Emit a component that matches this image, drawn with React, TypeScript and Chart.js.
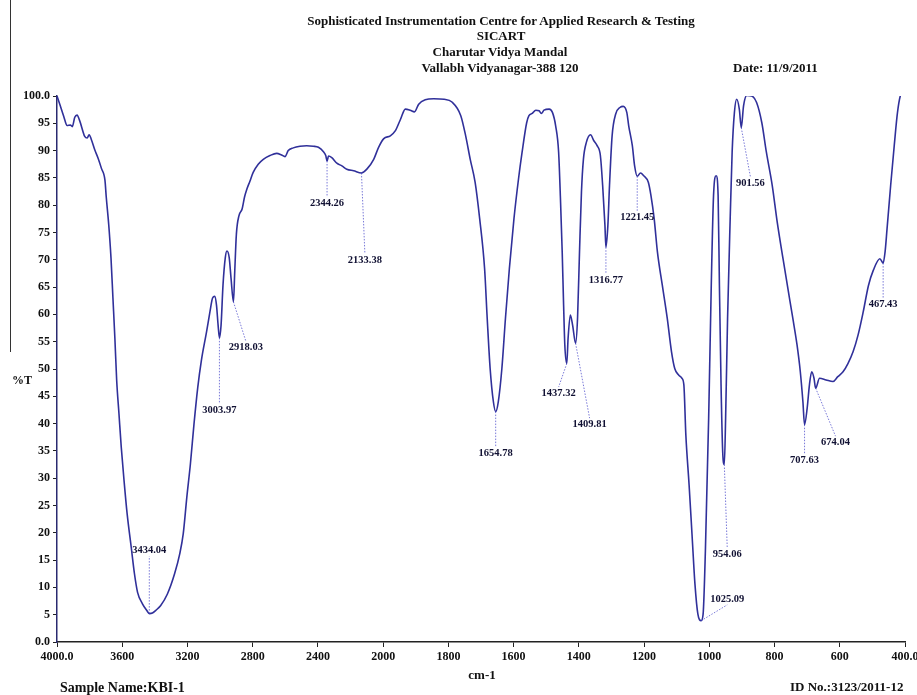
import React, { useEffect, useRef } from "react";
import { Chart, registerables } from "chart.js";

Chart.register(...registerables);

// Spectrum (wavenumber cm-1, %T)
const wavenumbers = [
  4000, 3983, 3959, 3938, 3918, 3906, 3891, 3877, 3860, 3830, 3815, 3803, 3789, 3768, 3748, 3727, 3706, 3698, 3683, 3669,
  3657, 3645, 3634, 3620, 3606, 3589, 3570, 3545, 3525, 3506, 3476, 3450, 3434, 3415, 3394, 3364, 3323, 3279, 3247, 3226,
  3204, 3182, 3160, 3137, 3115, 3083, 3062, 3046, 3033, 3022, 3012, 3004, 2994, 2982, 2968, 2958, 2944, 2933, 2918, 2910,
  2900, 2884, 2865, 2850, 2835, 2817, 2797, 2766, 2735, 2694, 2653, 2623, 2602, 2582, 2551, 2510, 2469, 2428, 2397, 2366,
  2352, 2344, 2335, 2315, 2284, 2253, 2223, 2181, 2133, 2100, 2058, 2028, 1998, 1978, 1963, 1947, 1932, 1917, 1904, 1891,
  1871, 1845, 1813, 1789, 1762, 1747, 1733, 1718, 1704, 1689, 1681, 1672, 1662, 1655, 1647, 1636, 1625, 1613, 1599, 1585,
  1574, 1560, 1553, 1543, 1532, 1522, 1515, 1507, 1491, 1481, 1471, 1462, 1456, 1451, 1447, 1443, 1437, 1433, 1426, 1419,
  1410, 1404, 1398, 1392, 1386, 1377, 1364, 1354, 1344, 1334, 1327, 1320, 1317, 1311, 1306, 1298, 1287, 1274, 1264, 1253,
  1247, 1236, 1229, 1221, 1211, 1201, 1187, 1179, 1169, 1159, 1144, 1129, 1116, 1106, 1094, 1084, 1078, 1072, 1062, 1053,
  1044, 1035, 1025, 1019, 1012, 1002, 994, 987, 979, 973, 969, 964, 959, 954, 950, 944, 936, 930, 923, 916,
  908, 902, 895, 885, 870, 855, 839, 825, 807, 792, 774, 759, 744, 731, 721, 713, 708, 700, 693, 686,
  679, 674, 662, 642, 621, 606, 590, 575, 559, 544, 528, 512, 497, 477, 467, 461, 455, 444, 433, 423,
  413, 408,
];
const transmittance = [
  100.0, 98.5, 96.3, 94.6, 94.7, 94.4, 96.1, 96.5, 95.4, 92.6, 92.3, 92.9, 92.0, 90.1, 88.6, 86.7, 84.6, 81.5, 76.5, 70.4,
  63.0, 55.6, 47.9, 41.8, 35.7, 29.6, 23.5, 17.4, 12.5, 9.1, 7.0, 5.8, 5.2, 5.3, 5.8, 6.7, 8.8, 12.5, 16.2, 19.8,
  26.5, 32.6, 39.9, 46.6, 51.5, 56.8, 60.5, 63.0, 63.3, 61.7, 58.0, 55.7, 58.0, 65.4, 70.4, 71.6, 70.4, 66.7, 62.3, 67.9,
  74.7, 78.1, 79.3, 81.5, 83.0, 84.4, 86.0, 87.5, 88.4, 89.1, 89.5, 89.2, 88.9, 90.0, 90.5, 90.8, 90.9, 90.8, 90.6, 89.8,
  89.1, 88.1, 89.0, 88.7, 87.7, 87.2, 86.6, 86.3, 85.9, 86.6, 88.4, 90.6, 92.2, 92.7, 93.6, 95.7, 97.6, 97.4, 97.1, 98.5,
  99.3, 99.5, 99.4, 98.9, 96.4, 92.7, 88.4, 84.2, 77.5, 68.4, 59.3, 50.1, 44.0, 42.2, 44.0, 50.1, 59.3, 68.4, 77.5, 84.8,
  89.7, 95.1, 96.4, 96.8, 97.4, 97.3, 96.8, 97.4, 97.6, 97.0, 94.5, 89.7, 80.5, 71.4, 62.3, 54.4, 51.0, 55.6, 59.9, 58.0,
  54.7, 59.3, 71.4, 82.4, 88.4, 91.5, 92.9, 91.8, 90.9, 89.1, 83.6, 76.3, 72.3, 76.3, 83.6, 92.7, 96.7, 97.9, 98.1, 97.0,
  94.5, 90.9, 87.2, 85.3, 85.9, 85.4, 84.2, 81.8, 77.5, 71.4, 65.3, 59.3, 53.2, 50.1, 48.9, 48.3, 47.1, 38.0, 28.8, 19.7,
  10.6, 5.1, 3.9, 5.1, 16.7, 41.0, 65.3, 81.8, 85.4, 81.8, 65.3, 47.1, 34.9, 32.5, 41.0, 59.3, 77.5, 89.7, 97.0, 99.4,
  97.6, 94.2, 98.2, 100.1, 100.0, 98.8, 95.1, 89.7, 83.6, 77.0, 70.2, 64.7, 59.3, 54.4, 49.5, 44.0, 39.8, 42.8, 47.1, 49.5,
  48.3, 46.5, 48.3, 48.0, 47.7, 48.6, 49.5, 51.0, 53.2, 56.2, 60.5, 65.3, 68.1, 70.2, 69.4, 71.5, 75.7, 83.6, 90.9, 97.0,
  100.3, 100.6,
];

// Peak annotations: peak wavenumber, and where its label sits (wavenumber, %T)
const peakLabels = ["3434.04", "3003.97", "2918.03", "2344.26", "2133.38", "1654.78", "1437.32", "1409.81", "1316.77", "1221.45", "1025.09", "954.06", "901.56", "707.63", "674.04", "467.43"];
const peakWn = [3434, 3004, 2918, 2344, 2133, 1655, 1437, 1410, 1317, 1221, 1025, 954, 902, 708, 674, 467];
const labelWn = [3434, 3004, 2842, 2344, 2112, 1655, 1462, 1367, 1317, 1221, 945, 945, 874, 708, 613, 467];
const labelT = [16.8, 42.5, 54.0, 80.4, 70.0, 34.6, 45.6, 39.9, 66.3, 77.7, 7.9, 16.1, 84.1, 33.2, 36.6, 61.9];

// Axis ticks (cm-1)
const xTickValues = [4000, 3600, 3200, 2800, 2400, 2000, 1800, 1600, 1400, 1200, 1000, 800, 600, 400];

// Split IR axis: 4000-2000 is drawn at half the scale of 2000-400
const toAxis = (wn: number) => (wn >= 2000 ? (4000 - wn) / 2 : 1000 + (2000 - wn));
const fromAxis = (u: number) => (u <= 1000 ? 4000 - 2 * u : 2000 - (u - 1000));

function tAt(wn: number) {
  for (let i = 0; i < wavenumbers.length - 1; i++) {
    const a = wavenumbers[i], b = wavenumbers[i + 1];
    if (wn <= a && wn >= b) {
      const f = a === b ? 0 : (a - wn) / (a - b);
      return transmittance[i] + f * (transmittance[i + 1] - transmittance[i]);
    }
  }
  return transmittance[transmittance.length - 1];
}

const peakPlugin = {
  id: "peakLabels",
  afterDatasetsDraw(chart: any) {
    const ctx = chart.ctx;
    const xs = chart.scales.x, ys = chart.scales.y;
    ctx.save();
    ctx.font = "bold 10.5px 'Liberation Serif'";
    ctx.textAlign = "center";
    ctx.textBaseline = "middle";
    peakLabels.forEach((txt, i) => {
      const px = xs.getPixelForValue(toAxis(peakWn[i]));
      const py = ys.getPixelForValue(tAt(peakWn[i]));
      const lx = xs.getPixelForValue(toAxis(labelWn[i]));
      const ly = ys.getPixelForValue(labelT[i]);
      const endY = ly < py ? ly + 6 : ly - 6;
      ctx.strokeStyle = "rgba(70,70,200,0.8)";
      ctx.lineWidth = 0.9;
      ctx.setLineDash([1.5, 1.5]);
      ctx.beginPath();
      ctx.moveTo(px, py);
      ctx.lineTo(lx, endY);
      ctx.stroke();
      ctx.setLineDash([]);
      ctx.fillStyle = "#111133";
      ctx.fillText(txt, lx, ly);
    });
    ctx.restore();
  },
};

export default function App() {
  const ref = useRef<HTMLCanvasElement>(null);
  useEffect(() => {
    if (!ref.current) return;
    const data = wavenumbers.map((w, i) => ({ x: toAxis(w), y: transmittance[i] }));
    const tickFont = { family: "'Liberation Serif'", size: 12, weight: "bold" as const };
    const chart = new Chart(ref.current, {
      type: "line",
      data: {
        datasets: [
          {
            data,
            borderColor: "#30309a",
            borderWidth: 1.6,
            pointRadius: 0,
            cubicInterpolationMode: "monotone",
            fill: false,
          },
        ],
      },
      options: {
        animation: false,
        responsive: false,
        maintainAspectRatio: false,
        layout: { padding: { top: 96, right: 12, left: 0, bottom: 0 } },
        plugins: { legend: { display: false }, tooltip: { enabled: false }, title: { display: false } },
        scales: {
          x: {
            type: "linear",
            min: 0,
            max: 2600,
            afterBuildTicks: (s: any) => {
              s.ticks = xTickValues.map((v) => ({ value: toAxis(v) }));
            },
            afterFit: (s: any) => {
              s.height = 53;
              s.paddingLeft = 0;
              s.paddingRight = 0;
            },
            ticks: {
              autoSkip: false,
              maxRotation: 0,
              color: "#111",
              font: tickFont,
              padding: 3,
              callback: (v: any) => {
                const wn = Math.round(fromAxis(Number(v)));
                return wn === 4000 ? "4000.0" : wn === 400 ? "400.0" : String(wn);
              },
            },
            grid: { drawOnChartArea: false, drawTicks: true, tickLength: 5, color: "#222" },
            border: { display: true, color: "#222", width: 1.5 },
          },
          y: {
            type: "linear",
            min: 0,
            max: 100,
            afterFit: (s: any) => {
              s.width = 57;
            },
            ticks: {
              stepSize: 5,
              color: "#111",
              font: tickFont,
              padding: 3,
              callback: (v: any) => (v === 100 ? "100.0" : v === 0 ? "0.0" : String(v)),
            },
            grid: { drawOnChartArea: false, drawTicks: true, tickLength: 4, color: "#222" },
            border: { display: true, color: "#2a2a70", width: 1.5 },
          },
        },
      },
      plugins: [peakPlugin],
    });
    return () => chart.destroy();
  }, []);

  const serif = "'Liberation Serif', serif";
  const txt = (s: string, x: number, y: number, size: number, align: "center" | "left" = "center") => (
    <div
      style={{
        position: "absolute",
        left: x,
        top: y,
        transform: align === "center" ? "translate(-50%, -50%)" : "translate(0, -50%)",
        fontFamily: serif,
        fontWeight: "bold",
        fontSize: size,
        color: "#111",
        whiteSpace: "nowrap",
        lineHeight: 1,
      }}
    >
      {s}
    </div>
  );

  return (
    <div style={{ position: "absolute", left: 0, top: 0, width: 917, height: 695, background: "#fff", overflow: "hidden" }}>
      <canvas ref={ref} width={917} height={695} style={{ position: "absolute", left: 0, top: 0, width: 917, height: 695 }} />
      <div style={{ position: "absolute", left: 10, top: 0, width: 1, height: 352, background: "#333" }} />
      {txt("Sophisticated Instrumentation Centre for Applied Research & Testing", 501, 20, 13)}
      {txt("SICART", 501, 35, 13)}
      {txt("Charutar Vidya Mandal", 500, 51, 13)}
      {txt("Vallabh Vidyanagar-388 120", 500, 67, 13)}
      {txt("Date: 11/9/2011", 733, 67, 13, "left")}
      {txt("%T", 12, 380, 12, "left")}
      {txt("cm-1", 482, 674, 13)}
      {txt("Sample Name:KBI-1", 60, 688, 14, "left")}
      {txt("ID No.:3123/2011-12", 790, 686, 13, "left")}
    </div>
  );
}
